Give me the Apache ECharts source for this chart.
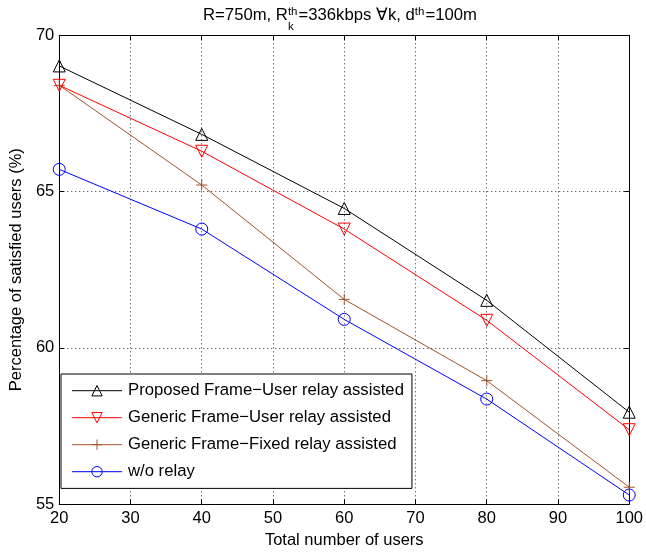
<!DOCTYPE html>
<html>
<head>
<meta charset="utf-8">
<script src="https://cdn.jsdelivr.net/npm/echarts@6/dist/echarts.min.js"></script>
<style>
html,body{margin:0;padding:0;background:#fff;}
#chart{width:646px;height:554px;}
</style>
</head>
<body>
<div id="chart"></div>
<script>
// ---- data ----
var users = [20, 40, 60, 80, 100];
var proposedFrameUser = [69.02, 66.83, 64.46, 61.52, 57.94];
var genericFrameUser  = [68.40, 66.29, 63.80, 60.88, 57.38];
var genericFrameFixed = [68.40, 65.21, 61.55, 58.95, 55.54];
var withoutRelay      = [65.71, 63.80, 60.91, 58.36, 55.29];
var seriesNames = [
  'Proposed Frame\u2212User relay assisted',
  'Generic Frame\u2212User relay assisted',
  'Generic Frame\u2212Fixed relay assisted',
  'w/o relay'
];
var xTicks = {min: 20, max: 100, step: 10};
var yTicks = {min: 55, max: 70, step: 5};
var titleParts = ['R=750m, R', 'th', 'k', '=336kbps \u2200k, d', 'th', '=100m'];
var xLabel = 'Total number of users';
var yLabel = 'Percentage of satisfied users (%)';

function pairs(ys){ return users.map(function(x,i){ return [x, ys[i]]; }); }

var FONT = '"Liberation Sans", Arial, Helvetica, sans-serif';
var chart = echarts.init(document.getElementById('chart'), null, {renderer:'canvas'});

// title built from text pieces (sub/superscripts stacked)
var ctx = document.createElement('canvas').getContext('2d');
function w(t, size){ ctx.font = size + 'px ' + FONT; return ctx.measureText(t).width; }
var mainSize = 16.7, smallSize = 11.5;
var wA = w(titleParts[0], mainSize), wSup = Math.max(w(titleParts[1], smallSize), w(titleParts[2], smallSize));
var wB = w(titleParts[3], mainSize), wSup2 = w(titleParts[4], smallSize), wC = w(titleParts[5], mainSize);
var total = wA + wSup + 1 + wB + wSup2 + 1 + wC;
var x0 = 340 - total / 2;
var baseY = 17.2, supY = 12.3, subY = 27.5;
var g = [];
function txt(t, x, y, size){
  g.push({type:'text', left:x, top:y - size*0.6, silent:true,
    style:{text:t, x:0, y:0, font: size + 'px ' + FONT, fill:'#000', textVerticalAlign:'top'}});
}
var cx = x0;
txt(titleParts[0], cx, baseY, mainSize); cx += wA;
txt(titleParts[1], cx, supY, smallSize);
txt(titleParts[2], cx, subY, smallSize); cx += wSup + 1;
txt(titleParts[3], cx, baseY, mainSize); cx += wB;
txt(titleParts[4], cx, supY, smallSize); cx += wSup2 + 1;
txt(titleParts[5], cx, baseY, mainSize);

var gridLine = {show:true, lineStyle:{color:'#333', width:1, type:[1,3]}};
var axisLine = {show:true, onZero:false, lineStyle:{color:'#000', width:1}};
var tick = {show:true, inside:true, length:5, lineStyle:{color:'#000', width:1}};
var labelStyle = {color:'#000', fontSize:16.5, fontFamily:FONT};

var colors = ['#000000', '#ff0000', '#a0522d', '#0000ff'];
var symbols = ['triangle', 'triangle', 'path://M5,0L5,10M0,5L10,5', 'circle'];
var rotates = [0, 180, 0, 0];
var sizes = [12, 12, 11, 12];
var dataSets = [proposedFrameUser, genericFrameUser, genericFrameFixed, withoutRelay];

var series = dataSets.map(function(d, i){
  return {
    name: seriesNames[i], type:'line', data: pairs(d),
    symbol: symbols[i], symbolSize: sizes[i], symbolRotate: rotates[i], showAllSymbol:true,
    lineStyle:{color:colors[i], width:1},
    itemStyle:{color:'rgba(255,255,255,0)', borderColor:colors[i], borderWidth:1},
    emphasis:{disabled:true}, z: 10 - i
  };
});

chart.setOption({
  animation:false,
  backgroundColor:'#fff',
  textStyle:{fontFamily:FONT},
  graphic: g,
  grid:{left:56.5, right:15.5, top:35.3, bottom:47.7, containLabel:false},
  legend:{
    orient:'vertical', left:61, top:374, data: seriesNames,
    itemWidth:50, itemHeight:13, itemGap:10,
    padding:[8.2, 8, 8.2, 10.5],
    borderColor:'#000', borderWidth:1, backgroundColor:'#fff',
    lineStyle:{width:1},
    itemStyle:{borderWidth:1},
    textStyle:{color:'#000', fontSize:16.7, fontFamily:FONT, padding:[0,0,0,1]},
    selectedMode:false
  },
  xAxis:[
    {type:'value', position:'bottom', min:xTicks.min, max:xTicks.max, interval:xTicks.step,
     name:xLabel, nameLocation:'middle', nameGap:25, nameTextStyle:labelStyle,
     axisLine:axisLine, axisTick:tick, axisLabel:Object.assign({margin:6}, labelStyle), splitLine:gridLine},
    {type:'value', position:'top', min:xTicks.min, max:xTicks.max, interval:xTicks.step,
     axisLine:axisLine, axisTick:tick, axisLabel:{show:false}, splitLine:{show:false}}
  ],
  yAxis:[
    {type:'value', position:'left', min:yTicks.min, max:yTicks.max, interval:yTicks.step,
     name:yLabel, nameLocation:'middle', nameGap:27, nameTextStyle:labelStyle,
     axisLine:axisLine, axisTick:tick, axisLabel:Object.assign({margin:5}, labelStyle), splitLine:gridLine},
    {type:'value', position:'right', min:yTicks.min, max:yTicks.max, interval:yTicks.step,
     axisLine:axisLine, axisTick:tick, axisLabel:{show:false}, splitLine:{show:false}}
  ],
  series: series
});
</script>
</body>
</html>
